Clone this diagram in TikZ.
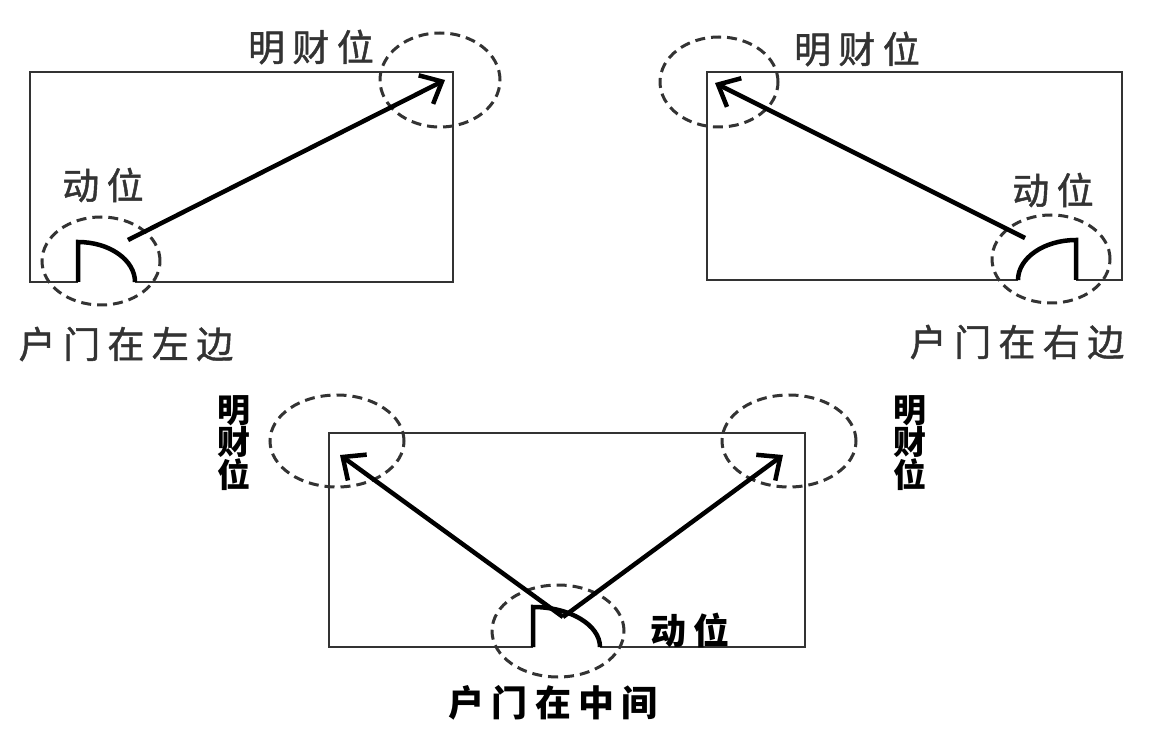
\documentclass[tikz,border=0pt]{standalone}
\usepackage{fontspec}
\newfontfamily\cjk{Noto Sans CJK SC}[LetterSpace=20,FakeBold=1.2]
\newfontfamily\cjkb{Noto Sans CJK SC}[LetterSpace=20]
\newfontfamily\cjkv{Noto Sans CJK SC}
\usetikzlibrary{arrows.meta,shapes.geometric}
\tikzset{
  rectline/.style={draw=black!80, line width=2pt},
  doorline/.style={draw=black, line width=4.5pt, line join=miter},
  dashring/.style={draw=black!80, line width=3pt, dash pattern=on 10pt off 6pt, ellipse, inner sep=0pt},
  arrowline/.style={draw=black, line width=4.5pt, -{Straight Barb[length=18pt,width=32pt]}},
  toplabel/.style={text=black!80, font=\cjk\fontsize{37}{40}\selectfont, inner sep=0pt},
  botlabel/.style={text=black, font=\cjkb\bfseries\fontsize{36}{40}\selectfont, inner sep=0pt},
  vlabel/.style={text=black, font=\cjkv\bfseries\fontsize{33}{29}\selectfont, inner sep=0pt, align=center},
}
\begin{document}
\begin{tikzpicture}[x=1pt,y=-1pt]
\useasboundingbox[fill=white] (0,0) rectangle (1170,735);

% ---------- top-left panel ----------
\coordinate (tlL) at (78,282);
\coordinate (tlR) at (135,282);
\draw[rectline] (tlL) -- (30,282) -- (30,72) -- (453,72) -- (453,282) -- (tlR);
\draw[doorline] (tlL) -- (78,242) .. controls (109.5,242) and (135,260) .. (tlR);
\node[dashring, minimum width=118pt, minimum height=88pt] (tldoorring) at (101,261) {};
\node[dashring, minimum width=120pt, minimum height=94pt] (tlcairing) at (440,80) {};
\coordinate (tlstart) at (128,240);
\coordinate (tltip) at (445,80);
\draw[arrowline] (tlstart) -- (tltip);
\node[toplabel] (tlcai) at (311,47) {明财位};
\node[toplabel] (tldong) at (103,185) {动位};
\node[toplabel] (tlhu) at (126,344) {户门在左边};

% ---------- top-right panel ----------
\coordinate (trL) at (1018,280);
\coordinate (trR) at (1076,280);
\draw[rectline] (trR) -- (1122,280) -- (1122,72) -- (707,72) -- (707,280) -- (trL);
\draw[doorline] (trR) -- (1076,240) .. controls (1044,240) and (1018,258) .. (trL);
\node[dashring, minimum width=118pt, minimum height=88pt] (trdoorring) at (1051,259) {};
\node[dashring, minimum width=118pt, minimum height=90pt] (trcairing) at (719,82) {};
\coordinate (trstart) at (1025,238);
\coordinate (trtip) at (715,83);
\draw[arrowline] (trstart) -- (trtip);
\node[toplabel] (trcai) at (857,49) {明财位};
\node[toplabel] (trdong) at (1053,190) {动位};
\node[toplabel] (trhu) at (1017,342) {户门在右边};

% ---------- bottom panel ----------
\coordinate (bL) at (533,647);
\coordinate (bR) at (600,647);
\draw[rectline] (bL) -- (329,647) -- (329,433) -- (805,433) -- (805,647) -- (bR);
\draw[doorline] (bL) -- (533,607) .. controls (570,607) and (600,625) .. (bR);
\node[dashring, minimum width=132pt, minimum height=92pt] (bdoorring) at (558,631) {};
\node[dashring, minimum width=134pt, minimum height=92pt] (blring) at (337,441) {};
\node[dashring, minimum width=134pt, minimum height=92pt] (brring) at (789,441) {};
\coordinate (bstart) at (563,617);
\coordinate (bltip) at (340,455);
\coordinate (brtip) at (783,455);
\draw[arrowline] (bstart) -- (bltip);
\draw[arrowline] (bstart) -- (brtip);
\node[vlabel] (blcai) at (234,443) {明\\财\\位};
\node[vlabel] (brcai) at (910,443) {明\\财\\位};
\node[botlabel] (bdong) at (690,630) {动位};
\node[botlabel] (bhu) at (553,703) {户门在中间};
\end{tikzpicture}
\end{document}
